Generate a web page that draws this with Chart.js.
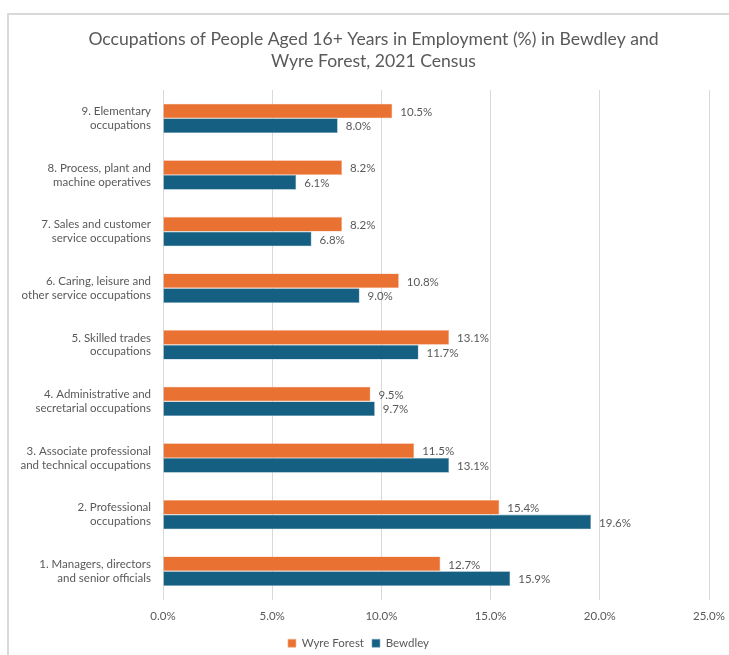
<!DOCTYPE html>
<html>
<head>
<meta charset="utf-8">
<script src="https://cdn.jsdelivr.net/npm/chart.js@4/dist/chart.umd.min.js"></script>
<style>
  html, body { margin: 0; padding: 0; background: #fff; }
  #wrap { position: relative; width: 729px; height: 655px; overflow: hidden; }
  #frame { position: absolute; left: 7px; top: 13px; width: 800px; height: 800px;
           border-left: 2px solid #d9d9d9; border-top: 2px solid #d9d9d9; box-sizing: border-box; }
  #chart { position: absolute; left: 0; top: 0; }
</style>
</head>
<body>
<div id="wrap">
  <div id="frame"></div>
  <canvas id="chart" width="729" height="655"></canvas>
</div>
<script>
// ===== data (top row first) =====
const categories = [
  ["9. Elementary", "occupations"],
  ["8. Process, plant and", "machine operatives"],
  ["7. Sales and customer", "service occupations"],
  ["6. Caring, leisure and", "other service occupations"],
  ["5. Skilled trades", "occupations"],
  ["4. Administrative and", "secretarial occupations"],
  ["3. Associate professional", "and technical occupations"],
  ["2. Professional", "occupations"],
  ["1. Managers, directors", "and senior officials"]
];
const wyreForest = [10.5, 8.2, 8.2, 10.8, 13.1, 9.5, 11.5, 15.4, 12.7];
const bewdley    = [8.0, 6.1, 6.8, 9.0, 11.7, 9.7, 13.1, 19.6, 15.9];
const xTicks = [0, 5, 10, 15, 20, 25];

const GREY = "#595959";
const FONT = "Lato, 'Noto Sans', sans-serif";

// value labels at the end of each bar
const barValues = {
  id: "barValues",
  afterDatasetsDraw(chart) {
    const ctx = chart.ctx;
    ctx.save();
    ctx.font = "11.5px " + FONT;
    ctx.fillStyle = GREY;
    ctx.textAlign = "left";
    ctx.textBaseline = "middle";
    chart.data.datasets.forEach((ds, i) => {
      chart.getDatasetMeta(i).data.forEach((bar, j) => {
        ctx.fillText(ds.data[j].toFixed(1) + "%", bar.x + 8, bar.y + 1);
      });
    });
    ctx.restore();
  }
};

// the title sits a little right of the plot centre in the original
const titleShift = {
  id: "titleShift",
  afterLayout(chart) {
    if (chart.titleBlock) {
      chart.titleBlock.left += 15;
      chart.titleBlock.right += 15;
    }
  }
};

new Chart(document.getElementById("chart"), {
  type: "bar",
  data: {
    labels: categories,
    datasets: [
      { label: "Wyre Forest", data: wyreForest, backgroundColor: "#E97132",
        borderColor: "#f3b08c", borderWidth: 0.6 },
      { label: "Bewdley", data: bewdley, backgroundColor: "#156082",
        borderColor: "#7aa6bb", borderWidth: 0.6 }
    ]
  },
  options: {
    indexAxis: "y",
    responsive: false,
    animation: false,
    categoryPercentage: 0.52,
    barPercentage: 1.0,
    layout: { padding: { left: 8, right: 20, top: 14, bottom: -4 } },
    scales: {
      x: {
        min: 0, max: 25,
        afterBuildTicks: (scale) => { scale.ticks = xTicks.map(v => ({ value: v })); },
        afterFit: (scale) => { scale.height = 30; scale.paddingRight = 0; },
        grid: { color: "#d9d9d9", drawTicks: false, lineWidth: 1 },
        border: { display: false },
        ticks: {
          padding: 10, color: GREY,
          font: { family: FONT, size: 11.5 },
          callback: (v) => Number(v).toFixed(1) + "%"
        }
      },
      y: {
        afterFit: (scale) => { scale.width = 155; },
        grid: { display: false },
        border: { display: false },
        ticks: { padding: 4, color: GREY, font: { family: FONT, size: 11.5 }, autoSkip: false }
      }
    },
    plugins: {
      title: {
        display: true,
        text: ["Occupations of People Aged 16+ Years in Employment (%) in Bewdley and",
               "Wyre Forest, 2021 Census"],
        color: GREY,
        font: { family: FONT, size: 17.6, weight: "normal", lineHeight: 1.28 },
        padding: { top: 14, bottom: 17 }
      },
      legend: {
        position: "bottom",
        labels: {
          color: GREY, font: { family: FONT, size: 11.5 },
          boxWidth: 8, boxHeight: 8, padding: 8
        }
      },
      tooltip: { enabled: false }
    }
  },
  plugins: [barValues, titleShift]
});
</script>
</body>
</html>
